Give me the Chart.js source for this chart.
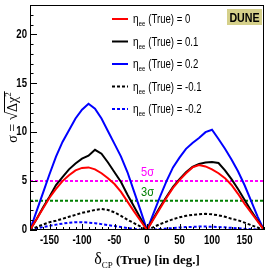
<!DOCTYPE html>
<html>
<head>
<meta charset="utf-8">
<script src="https://cdn.jsdelivr.net/npm/chart.js@4/dist/chart.umd.min.js"></script>
<style>
  html, body { margin: 0; padding: 0; background: #fff; }
  #wrap { width: 266px; height: 273px; }
</style>
</head>
<body>
<div id="wrap"><canvas id="dune_chart" width="266" height="273"></canvas></div>
<script>
// delta_CP (True) grid, degrees
var degrees = [-180, -170, -160, -150, -140, -130, -120, -110, -100, -90, -80, -70, -60, -50, -40, -30, -20, -10, 0,
    10, 20, 30, 40, 50, 60, 70, 80, 90, 100, 110, 120, 130, 140, 150, 160, 170, 180];

// sigma = sqrt(delta chi^2) for each eta_ee (True)
var sigEta0 = [0, 1.1, 2.2, 3.3, 4.2, 5.0, 5.6, 6.1, 6.35, 6.4, 6.2, 5.8, 5.3, 4.7, 3.9, 2.9, 1.9, 0.95, 0,
    1.1, 2.2, 3.3, 4.3, 5.1, 5.8, 6.4, 6.65, 6.5, 6.2, 5.8, 5.3, 4.6, 3.7, 2.7, 1.8, 0.9, 0];
var sigEtaP01 = [0, 1.1, 2.3, 3.4, 4.6, 5.4, 6.2, 6.8, 7.3, 7.6, 8.2, 7.8, 6.9, 5.9, 4.9, 3.6, 2.4, 1.2, 0,
    1.2, 2.35, 3.4, 4.4, 5.2, 5.9, 6.45, 6.75, 6.9, 6.95, 6.85, 6.1, 5.2, 4.2, 3.1, 2.0, 1.0, 0];
var sigEtaP02 = [0, 1.9, 3.8, 5.7, 7.5, 9.0, 10.2, 11.4, 12.3, 12.9, 12.4, 11.4, 10.1, 8.8, 7.5, 5.9, 3.95, 2.0, 0,
    1.7, 3.4, 5.0, 6.4, 7.4, 8.3, 8.9, 9.4, 10.0, 10.25, 9.3, 8.3, 7.2, 6.0, 4.6, 3.0, 1.4, 0];
var sigEtaM01 = [0, 0.3, 0.55, 0.8, 0.95, 1.15, 1.35, 1.55, 1.75, 1.9, 2.05, 2.15, 2.05, 1.8, 1.45, 1.05, 0.7, 0.35, 0,
    0.3, 0.6, 0.85, 1.1, 1.3, 1.45, 1.55, 1.6, 1.65, 1.6, 1.5, 1.35, 1.15, 1.0, 0.75, 0.5, 0.25, 0];
var sigEtaM02 = [0, 0.15, 0.3, 0.42, 0.55, 0.65, 0.75, 0.8, 0.8, 0.75, 0.7, 0.6, 0.5, 0.4, 0.3, 0.2, 0.12, 0.05, 0,
    0.05, 0.1, 0.15, 0.2, 0.25, 0.3, 0.32, 0.35, 0.35, 0.33, 0.3, 0.27, 0.22, 0.18, 0.13, 0.08, 0.04, 0];

var etaLabels = ["0", "0.1", "0.2", "-0.1", "-0.2"];
var sigmaLevels = [5, 3];
var sigmaLabels = ["5\u03c3", "3\u03c3"];
var xTicks = [-150, -100, -50, 0, 50, 100, 150];
var yTicks = [0, 5, 10, 15, 20];

var seriesList = [sigEta0, sigEtaP01, sigEtaP02, sigEtaM01, sigEtaM02];
var seriesColors = ["#ff0000", "#000000", "#0000ff", "#000000", "#0000ff"];
var seriesDash = [[], [], [], [3, 2], [3, 2]];
var sigmaColors = ["#ff00ff", "#008000"];

function toPoints(arr) {
    return degrees.map(function (d, i) { return { x: d, y: arr[i] }; });
}

var datasets = [];
seriesList.forEach(function (s, i) {
    datasets.push({ label: "eta " + etaLabels[i], data: toPoints(s), borderColor: seriesColors[i], borderDash: seriesDash[i],
        borderWidth: 2, pointRadius: 0, tension: 0, fill: false });
});
sigmaLevels.forEach(function (lv, i) {
    datasets.push({ label: sigmaLabels[i], data: [{ x: -180, y: lv }, { x: 180, y: lv }], borderColor: sigmaColors[i],
        borderDash: [3, 2], borderWidth: 2, pointRadius: 0, fill: false });
});

var sans = "'Liberation Sans Narrow', 'Liberation Sans', Arial, sans-serif";
var serif = "'Liberation Serif', 'Times New Roman', serif";

// draws text squeezed horizontally, returns advance
function narrowText(ctx, txt, x, y, squeeze) {
    var w = ctx.measureText(txt).width * squeeze;
    var x0 = ctx.textAlign === "right" ? x : ctx.textAlign === "center" ? x : x;
    ctx.fillText(txt, x0, y, w);
    return w;
}

var rootStyle = {
    id: "rootStyle",
    afterDraw(chart) {
        var ctx = chart.ctx, a = chart.chartArea, xs = chart.scales.x, ys = chart.scales.y;
        ctx.save();
        ctx.strokeStyle = "#000";
        ctx.lineWidth = 1;
        ctx.beginPath();
        for (var v = -180; v <= 180; v += 10) {
            var px = Math.round(xs.getPixelForValue(v)) + 0.5;
            var len = v % 50 === 0 ? 6 : 3;
            ctx.moveTo(px, a.bottom); ctx.lineTo(px, a.bottom - len);
        }
        for (var w = 0; w <= 23; w++) {
            var py = Math.round(ys.getPixelForValue(w)) + 0.5;
            ctx.moveTo(a.left, py); ctx.lineTo(a.left + (w % 5 === 0 ? 7 : 3.5), py);
        }
        ctx.stroke();
        ctx.strokeRect(a.left + 0.5, a.top + 0.5, a.right - a.left - 1, a.bottom - a.top - 1);

        // tick labels
        ctx.fillStyle = "#000";
        ctx.font = "bold 12px " + sans;
        ctx.textBaseline = "middle";
        ctx.textAlign = "center";
        xTicks.forEach(function (t) { narrowText(ctx, String(t), xs.getPixelForValue(t), 241, 0.8); });
        ctx.textAlign = "right";
        yTicks.forEach(function (t) { narrowText(ctx, String(t), a.left - 3, ys.getPixelForValue(t), 0.8); });

        // legend
        var lx = 112, ly = 19;
        ctx.textAlign = "left";
        ctx.textBaseline = "alphabetic";
        for (var i = 0; i < etaLabels.length; i++) {
            var yy = ly + i * 22.5;
            ctx.beginPath();
            ctx.strokeStyle = seriesColors[i];
            ctx.lineWidth = 2;
            ctx.setLineDash(seriesDash[i]);
            ctx.moveTo(lx, yy); ctx.lineTo(lx + 16, yy);
            ctx.stroke();
            ctx.setLineDash([]);
            ctx.fillStyle = "#000";
            var tx = lx + 21;
            ctx.font = "12px " + sans;
            tx += narrowText(ctx, "\u03b7", tx, yy + 4, 0.85);
            ctx.font = "7px " + sans;
            tx += narrowText(ctx, "ee", tx, yy + 7, 0.85) + 3;
            ctx.font = "12px " + sans;
            narrowText(ctx, "(True) = " + etaLabels[i], tx, yy + 4, 0.8);
        }

        // DUNE tag
        ctx.fillStyle = "#d5d08a";
        ctx.fillRect(227, 9, 35, 16);
        ctx.fillStyle = "#000";
        ctx.font = "bold 13px " + sans;
        ctx.textAlign = "center";
        narrowText(ctx, "DUNE", 244.5, 22, 0.82);

        // sigma labels
        ctx.textAlign = "left";
        ctx.font = "13px " + sans;
        sigmaLevels.forEach(function (lv, k) {
            ctx.fillStyle = sigmaColors[k];
            narrowText(ctx, sigmaLabels[k], 141, ys.getPixelForValue(lv) - 5, 0.85);
        });

        // x title
        ctx.fillStyle = "#000";
        var parts = [["\u03b4", "16px " + serif, 0], ["CP", "9px " + serif, 4], [" (True) [in deg.]", "bold 13px " + serif, 0]];
        var total = 0;
        parts.forEach(function (p) { ctx.font = p[1]; total += ctx.measureText(p[0]).width; });
        var xx = (a.left + a.right) / 2 - total / 2;
        parts.forEach(function (p) { ctx.font = p[1]; ctx.fillText(p[0], xx, 264 + p[2]); xx += ctx.measureText(p[0]).width; });

        // y title
        ctx.translate(17, (a.top + a.bottom) / 2);
        ctx.rotate(-Math.PI / 2);
        var yparts = [["\u03c3 = ", "14px " + serif, 0], ["\u221a", "15px " + serif, 0], ["\u0394\u03c7", "14px " + serif, 0], ["2", "9px " + serif, -6]];
        var ytot = 0;
        yparts.forEach(function (p) { ctx.font = p[1]; ytot += ctx.measureText(p[0]).width; });
        var yx = -ytot / 2, barStart = 0;
        yparts.forEach(function (p, k) {
            ctx.font = p[1];
            ctx.fillText(p[0], yx, p[2]);
            yx += ctx.measureText(p[0]).width;
            if (k === 1) barStart = yx - 0.5;
        });
        ctx.beginPath();
        ctx.lineWidth = 1;
        ctx.strokeStyle = "#000";
        ctx.moveTo(barStart, -12.5); ctx.lineTo(yx + 1, -12.5);
        ctx.stroke();
        ctx.restore();
    },
};

var myChart = new Chart(document.getElementById("dune_chart"), {
    type: "line",
    data: { datasets: datasets },
    options: {
        responsive: false,
        animation: false,
        devicePixelRatio: 1,
        layout: { padding: { top: 5, right: 2, left: 0, bottom: 0 } },
        plugins: { legend: { display: false }, tooltip: { enabled: false } },
        scales: {
            x: {
                type: "linear", min: -180, max: 180,
                grid: { display: false, drawTicks: false }, border: { display: false },
                afterBuildTicks: function (scale) { scale.ticks = xTicks.map(function (v) { return { value: v }; }); },
                afterFit: function (scale) { scale.height = 43; },
                ticks: { display: false },
            },
            y: {
                type: "linear", min: 0, max: 23,
                grid: { display: false, drawTicks: false }, border: { display: false },
                afterBuildTicks: function (scale) { scale.ticks = yTicks.map(function (v) { return { value: v }; }); },
                afterFit: function (scale) { scale.width = 30; },
                ticks: { display: false },
            },
        },
    },
    plugins: [rootStyle],
});
</script>
</body>
</html>
